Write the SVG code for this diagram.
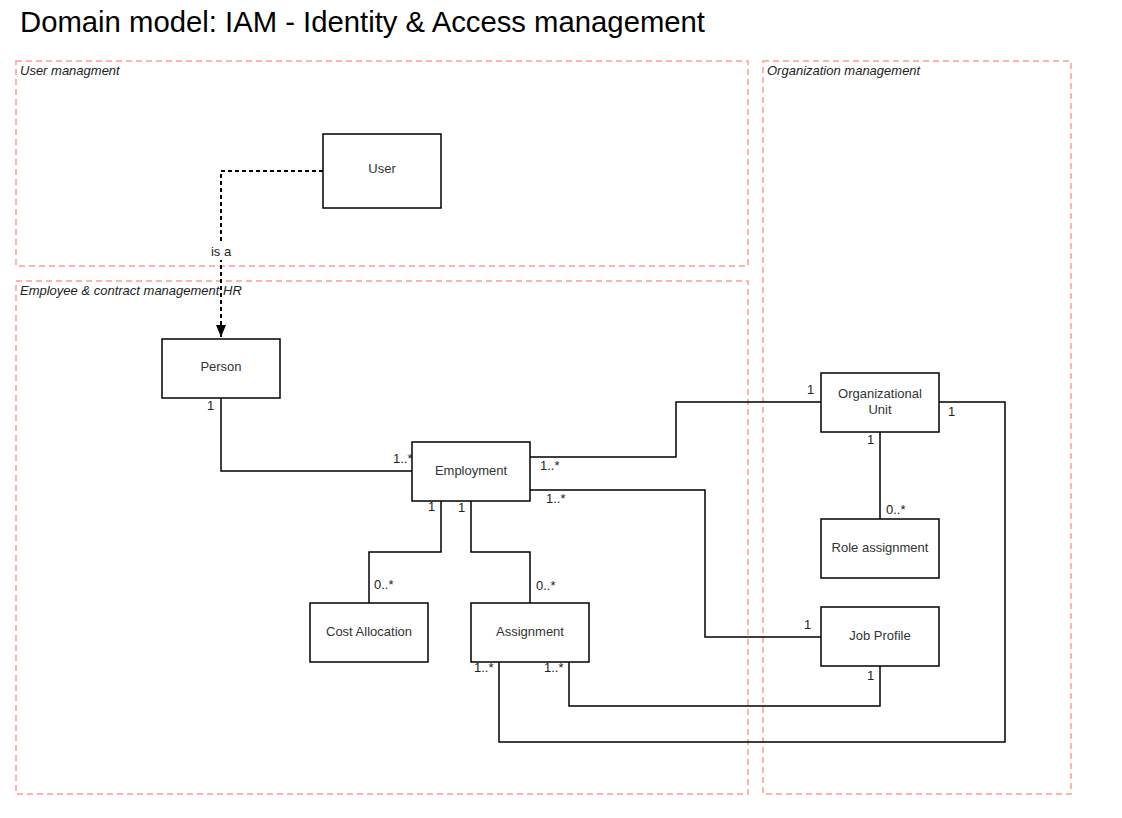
<svg xmlns="http://www.w3.org/2000/svg" width="1122" height="818" viewBox="0 0 1122 818">
<style>
.title{font-family:"Liberation Sans",Arial,sans-serif;font-size:29.5px;fill:#000}
.zone{fill:none;stroke:#ff9c90;stroke-width:1.5;stroke-dasharray:6 4}
.zlabel{font-family:"Liberation Sans",Arial,sans-serif;font-size:13px;font-style:italic;fill:#222}
.box{fill:#fff;stroke:#000;stroke-width:1.5}
.lbl{font-family:"Liberation Sans",Arial,sans-serif;font-size:13px;fill:#333;text-anchor:middle}
.edge{fill:none;stroke:#000;stroke-width:1.5}
.dash{fill:none;stroke:#000;stroke-width:2;stroke-dasharray:4 3}
.m{font-family:"Liberation Sans",Arial,sans-serif;font-size:13px;fill:#222}
</style>
<defs>
<marker id="arr" markerWidth="12" markerHeight="10" refX="12" refY="5" orient="auto" markerUnits="userSpaceOnUse" viewBox="0 0 12 10">
<path d="M0,0 L12,5 L0,10 Z" fill="#000"/>
</marker>
</defs>
<rect width="1122" height="818" fill="#fff"/>
<text class="title" x="20" y="32" textLength="685" lengthAdjust="spacingAndGlyphs">Domain model: IAM - Identity &amp; Access management</text>

<g id="zone-user">
<rect class="zone" x="16" y="61" width="732" height="205"/>
<text class="zlabel" x="20" y="75">User managment</text>
</g>
<g id="zone-hr">
<rect class="zone" x="16" y="281" width="732" height="513"/>
<text class="zlabel" x="20" y="295">Employee &amp; contract management HR</text>
</g>
<g id="zone-org">
<rect class="zone" x="763" y="61" width="308" height="733"/>
<text class="zlabel" x="767" y="75">Organization management</text>
</g>

<g id="connectors">
<path class="dash" d="M323,171 H221 V337" marker-end="url(#arr)"/>
<rect x="209" y="243" width="25" height="17" fill="#fff"/>
<text class="lbl" x="221" y="256" style="fill:#222">is a</text>

<path class="edge" d="M221,398 V471 H412"/>
<text class="m" x="207" y="410">1</text>
<text class="m" x="393" y="463">1..*</text>

<path class="edge" d="M530,457 H676 V402 H821"/>
<text class="m" x="540" y="470">1..*</text>
<text class="m" x="807" y="394">1</text>

<path class="edge" d="M530,490 H705 V637 H821"/>
<text class="m" x="546" y="503">1..*</text>
<text class="m" x="804" y="629">1</text>

<path class="edge" d="M441,501 V552 H369 V603"/>
<text class="m" x="428" y="511">1</text>
<text class="m" x="374" y="589">0..*</text>

<path class="edge" d="M471,501 V552 H530 V603"/>
<text class="m" x="458" y="512">1</text>
<text class="m" x="536" y="590">0..*</text>

<path class="edge" d="M880,432 V519"/>
<text class="m" x="867" y="444">1</text>
<text class="m" x="886" y="514">0..*</text>

<path class="edge" d="M939,402 H1005 V742 H499 V662"/>
<text class="m" x="948" y="416">1</text>
<text class="m" x="474" y="672">1..*</text>

<path class="edge" d="M880,666 V706 H569 V662"/>
<text class="m" x="867" y="680">1</text>
<text class="m" x="544" y="672">1..*</text>
</g>

<g id="node-user"><rect class="box" x="323" y="134" width="118" height="74"/><text class="lbl" x="382" y="173">User</text></g>
<g id="node-person"><rect class="box" x="162" y="339" width="118" height="59"/><text class="lbl" x="221" y="371">Person</text></g>
<g id="node-employment"><rect class="box" x="412" y="442" width="118" height="59"/><text class="lbl" x="471" y="475">Employment</text></g>
<g id="node-orgunit"><rect class="box" x="821" y="373" width="118" height="59"/><text class="lbl" x="880" y="398">Organizational</text><text class="lbl" x="880" y="414">Unit</text></g>
<g id="node-role"><rect class="box" x="821" y="519" width="118" height="59"/><text class="lbl" x="880" y="552">Role assignment</text></g>
<g id="node-jobprofile"><rect class="box" x="821" y="607" width="118" height="59"/><text class="lbl" x="880" y="640">Job Profile</text></g>
<g id="node-cost"><rect class="box" x="310" y="603" width="118" height="59"/><text class="lbl" x="369" y="636">Cost Allocation</text></g>
<g id="node-assignment"><rect class="box" x="471" y="603" width="118" height="59"/><text class="lbl" x="530" y="636">Assignment</text></g>
</svg>
